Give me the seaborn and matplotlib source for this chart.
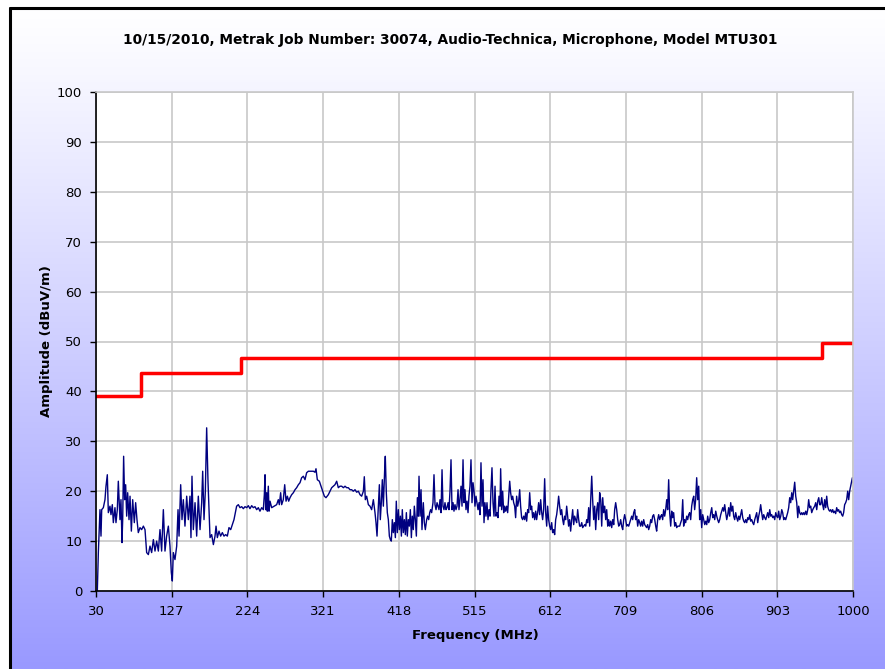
import numpy as np
import seaborn as sns
import matplotlib.pyplot as plt
from matplotlib.lines import Line2D

title = "10/15/2010, Metrak Job Number: 30074, Audio-Technica, Microphone, Model MTU301"
xlabel = "Frequency (MHz)"
ylabel = "Amplitude (dBuV/m)"

# limit line (step)
limit_mhz = [30, 88, 216, 960, 1000]
limit_dbuv = [39.0, 43.6, 46.6, 49.6, 49.6]

freq_mhz = [
    31.7, 33.0, 35.1, 36.4, 37.3, 39.4, 41.5, 42.8, 44.5, 45.8, 47.9, 49.2, 50.9, 52.2, 54.3, 55.6, 57.3, 58.6,
    60.7, 62.0, 63.3, 64.2, 65.4, 66.7, 68.0, 69.3, 70.6, 72.3, 73.6, 75.3, 77.0, 79.1, 80.8, 82.5, 84.2, 86.4,
    88.5, 90.7, 92.8, 94.9, 97.1, 99.2, 101.3, 103.5, 105.6, 107.7, 109.9, 112.0, 114.1, 116.3, 118.4, 120.5,
    122.7, 124.8, 126.5, 127.8, 129.1, 131.2, 133.4, 135.1, 136.4, 138.5, 140.2, 141.9, 144.0, 146.2, 148.3,
    150.4, 151.7, 153.0, 154.7, 156.9, 159.0, 161.1, 163.3, 165.4, 166.7, 168.4, 170.1, 171.8, 173.5,
    176.1, 178.2, 180.4, 182.5, 183.8, 185.5, 187.6, 189.7, 191.9, 194.0, 196.2, 198.3, 200.4, 202.6, 204.7,
    206.8, 208.5, 210.2, 212.4, 214.5, 216.7, 218.8, 220.9, 223.1, 225.2, 227.3, 229.5, 231.6, 233.7, 235.9,
    238.0, 240.1, 242.3, 244.4, 245.7, 246.6, 247.4, 248.7, 249.5, 250.8, 251.7, 253.0, 255.1, 257.2, 259.4,
    261.5, 263.6, 264.9, 266.6, 267.9, 270.0, 271.8, 273.5, 275.2, 276.9, 278.6, 280.7, 282.9, 285.0, 287.1,
    289.3, 291.4, 293.5, 295.7, 297.8, 299.9, 302.1, 304.2, 306.4, 308.5, 310.6, 311.9, 313.6, 316.2, 318.3,
    320.4, 322.6, 324.7, 327.7, 329.8, 332.0, 334.1, 336.2, 338.4, 340.5, 342.6,
    344.8, 347.0, 349.1, 351.2, 353.3, 355.5, 357.6, 359.7, 361.9, 364.0, 366.2, 368.3, 370.4, 372.6, 373.8,
    375.1, 376.8, 379.0, 381.1, 383.2, 385.4, 387.5, 388.8, 390.1, 391.4, 393.1, 394.3, 395.6, 396.9, 398.2,
    399.9, 400.7, 402.0, 403.3, 404.6, 405.9, 407.2, 408.4, 409.7, 411.0, 412.3, 413.6, 414.8, 416.1, 417.4,
    418.7, 420.0, 421.3, 422.5, 423.8, 425.1, 426.4, 427.7, 428.9, 430.2, 431.5, 432.8, 434.1, 435.3, 436.6,
    437.9, 439.2, 440.5, 441.8, 443.0, 443.9, 445.2, 446.5, 447.7, 449.4, 450.7, 452.0, 453.7, 455.0, 456.3,
    457.6, 458.8, 460.1, 461.8, 463.1, 464.4, 465.7, 467.0, 468.2, 469.5, 470.8, 472.1, 473.4, 474.6, 475.9,
    477.2, 478.5, 479.8, 481.1, 482.3, 483.6, 484.9, 486.2, 487.5, 488.7, 490.0, 491.3, 492.6, 493.9, 495.1,
    496.4,
    497.7, 499.0, 500.3, 501.5, 502.8, 504.1, 505.4, 506.7, 507.9, 509.2, 510.5, 511.8, 513.1, 514.4, 515.6,
    516.9, 518.2, 519.5, 520.8, 522.0, 523.3, 524.6, 525.9, 527.2, 528.4, 529.7, 531.0, 532.3, 533.6, 534.9,
    536.1, 537.4, 538.7, 540.0, 541.3, 542.5, 543.8, 545.1, 546.4, 547.7, 548.5, 549.8, 551.1, 552.4, 553.6,
    554.9, 556.2, 557.5, 558.8, 560.1, 561.3, 562.6, 563.9, 565.2, 566.5, 567.7, 569.0, 570.3, 571.6, 572.9,
    574.1, 575.4, 576.7, 578.0, 579.3, 580.6, 581.8, 583.1, 584.4, 585.7, 587.0, 588.2, 589.5, 590.8, 592.1,
    593.4, 594.6, 595.9, 597.2, 598.5, 599.8, 601.1, 602.3, 603.6, 604.9, 606.2, 607.5, 608.7, 610.0, 611.3,
    612.6, 613.9, 615.1, 616.4, 617.7, 619.0, 620.3, 621.6, 622.8, 624.1, 625.4, 626.7, 628.0, 629.2, 630.5,
    631.8, 633.1, 634.4, 635.6, 636.9, 638.2, 639.5, 640.8, 642.1, 643.3, 644.6, 645.9, 647.2, 648.5, 649.7,
    651.1, 652.4, 653.6, 654.9, 656.2, 657.5, 658.8, 660.0, 661.3, 662.6, 663.9, 665.2, 666.4, 667.7, 669.0,
    670.3, 671.6, 672.9, 674.1, 675.4, 676.7, 678.0, 679.3, 680.5, 681.8, 683.1, 684.4, 685.7, 686.9, 688.2,
    689.5, 690.8, 692.1, 693.4, 694.6, 695.9, 697.2, 698.5, 699.8, 701.0, 702.3, 703.6, 704.9, 706.2, 707.4,
    708.7, 710.0, 711.3, 712.6, 713.9, 715.1, 716.4, 717.7, 719.0, 720.3, 721.5, 722.8, 724.1, 725.4, 726.7,
    727.9, 729.2, 730.5, 731.8, 733.1, 734.4, 735.6, 736.9, 738.2, 739.5, 740.8, 742.0, 743.3, 744.6, 745.9,
    747.2, 748.4, 749.7, 751.0, 752.3, 753.6, 754.9, 756.1, 757.4, 758.7, 760.0, 761.3, 762.5, 763.8, 765.1,
    766.4, 767.7, 768.9, 770.2, 771.5, 772.8, 774.1, 775.4, 776.6, 777.9, 779.2, 780.5, 781.8, 783.0, 784.3,
    785.6, 786.9, 788.2, 789.4, 790.7, 792.0, 793.3, 794.6, 795.9, 797.1, 798.4, 799.7, 801.0, 802.3, 803.5,
    804.9, 806.1, 807.4, 808.7, 810.0, 811.3, 812.6, 813.8, 815.1, 816.4, 817.7, 819.0, 820.2, 821.5, 822.8,
    824.1, 825.4, 826.6, 827.9, 829.2, 830.5, 831.8, 833.1, 834.3, 835.6, 836.9, 838.2, 839.5, 840.7, 842.0,
    843.3, 844.6, 845.9, 847.1, 848.4, 849.7, 851.0, 852.3, 853.6, 854.8, 856.1, 857.4, 858.7, 860.0, 861.2,
    862.5, 863.8, 865.1, 866.4, 867.7, 868.9, 870.2, 871.5, 872.8, 874.1, 875.3, 876.6, 877.9, 879.2, 880.5,
    881.7, 883.0, 884.3, 885.6, 886.9, 888.2, 889.4, 890.7, 892.0, 893.3, 894.6, 895.8, 897.1, 898.4, 899.7,
    901.0, 902.2, 903.5, 904.8, 906.1, 907.4, 908.7, 909.9, 911.2, 912.5, 913.8, 915.1, 916.3, 917.6, 918.9,
    920.2, 921.5, 922.7, 924.0, 925.3, 926.6, 927.9, 929.2, 930.4, 931.7, 933.0, 934.3, 935.6, 936.8, 938.1,
    939.4, 940.7, 942.0, 943.2, 944.5, 945.8, 947.1, 948.4, 949.7, 950.9, 952.2, 953.5, 954.8, 956.1, 957.3,
    958.6, 959.9, 961.1, 962.4, 963.7, 965.0, 966.3, 967.5, 968.8, 970.1, 971.4, 972.7, 974.0, 975.2, 976.5,
    977.8, 979.1, 980.4, 981.6, 982.9, 984.2, 985.5, 986.8, 988.0, 989.3, 990.6, 991.9, 993.2, 994.5, 995.7,
    997.0, 998.3, 999.2, 1000.0,
]
amp_dbuv = [
    0.0, 7.7, 16.3, 11.0, 16.3, 16.7, 18.3, 21.0, 23.3, 15.7, 17.0, 15.3, 17.3, 13.7, 16.7, 13.7, 16.3, 22.0,
    14.3, 18.3, 9.7, 14.3, 27.0, 18.3, 21.3, 15.0, 19.7, 14.3, 19.0, 12.0, 18.3, 13.7, 17.7, 14.3, 11.7, 12.7,
    12.3, 13.0, 12.3, 7.7, 7.3, 9.0, 7.7, 10.3, 8.0, 10.0, 8.0, 12.3, 8.0, 16.3, 8.0, 11.0,
    13.0, 9.0, 3.7, 2.0, 7.7, 6.3, 9.0, 16.3, 11.0, 21.3, 14.3, 18.3, 13.0, 19.0, 14.3,
    19.0, 10.7, 23.0, 12.3, 17.7, 11.0, 19.0, 12.3, 17.7, 24.0, 14.3, 20.0, 32.7, 22.0,
    10.7, 11.3, 9.3, 11.0, 13.0, 10.7, 12.0, 11.0, 11.7, 11.0, 11.3, 11.0, 12.7, 12.3, 13.3,
    14.3, 15.7, 17.0, 17.3, 16.7, 16.9, 16.5, 16.9, 16.7, 17.1, 16.5, 17.1, 16.7, 16.9, 16.3,
    16.7, 16.0, 16.7, 16.3, 19.3, 23.3, 16.3, 19.7, 16.0, 21.0, 16.0, 18.0, 16.7, 16.9, 17.1,
    17.3, 18.3, 17.3, 19.7, 17.3, 18.3, 21.3, 18.0, 19.0, 18.0, 18.7, 19.3, 19.7, 20.3, 20.7,
    21.3, 21.7, 22.7, 23.0, 22.3, 23.7, 24.0, 24.0, 24.0, 24.0, 23.8, 24.5, 22.3, 22.0, 21.0,
    20.0, 19.0, 18.7, 19.3, 20.0, 20.7, 21.0, 21.3, 22.0, 20.7, 21.0,
    21.0, 20.7, 21.0, 20.7, 20.7, 20.3, 20.3, 20.0, 20.3, 19.8, 20.0, 19.3, 19.0, 20.0, 22.9,
    18.3, 19.0, 17.3, 17.0, 16.3, 18.3, 15.7, 13.7, 11.0, 15.7, 21.3, 14.3, 17.7, 22.3, 17.0,
    24.3, 27.0, 19.7, 15.7, 14.3, 11.0, 10.3, 10.0, 14.3, 11.7, 13.7, 10.7, 18.0, 11.7, 16.3,
    12.3, 15.0, 11.0, 16.3, 11.7, 14.3, 11.3, 15.7, 11.0, 14.3, 13.0, 16.3, 10.7, 15.0, 12.3,
    17.0, 14.3, 11.0, 18.7, 15.0, 23.0, 15.0, 20.3, 12.3, 17.7, 13.7, 12.3, 14.3, 15.0, 14.3,
    15.7, 16.3, 15.7, 17.7, 23.3, 17.3, 16.3, 17.7, 17.0, 16.3, 18.3, 15.7, 24.3, 17.0, 16.3,
    17.7, 16.3, 16.7, 17.7, 16.3, 20.0, 26.3, 16.3, 17.7, 16.0, 17.3, 16.3, 17.0, 20.3, 16.3,
    18.3,
    21.0, 17.0, 26.3, 17.7, 20.3, 16.3, 18.0, 15.7, 19.0, 21.0, 26.3, 17.7, 21.7, 20.0, 17.0,
    19.0, 17.7, 16.3, 17.7, 15.3, 25.7, 17.0, 22.3, 13.7, 17.7, 15.0, 17.7, 14.3, 16.3, 15.0,
    20.3, 24.7, 17.7, 15.0, 21.0, 15.0, 15.7, 14.7, 19.0, 17.0, 24.5, 16.3, 20.0, 15.7, 17.0,
    16.0, 17.0, 15.7, 19.0, 22.0, 19.7, 18.3, 19.0, 17.7, 17.0, 14.7, 19.0, 17.0, 18.0, 20.3,
    17.0, 14.7, 14.3, 15.0, 14.3, 15.7, 14.0, 16.3, 15.7, 19.7, 16.3, 17.0, 14.7, 15.7, 14.3,
    16.0, 14.3, 15.7, 17.7, 15.3, 18.3, 15.7, 14.3, 16.3, 22.5, 15.7, 13.0, 17.0, 14.3, 13.0,
    12.3, 13.7, 11.7, 12.3, 11.3, 14.3, 15.3, 17.0, 19.0, 17.0, 15.3, 16.3, 14.3, 13.3, 15.0,
    14.3, 17.0, 15.0, 13.0, 14.3, 12.0, 14.3, 16.3, 13.3, 15.0, 14.3, 13.7, 16.3, 14.3, 13.0,
    13.0, 13.7, 12.7, 13.0, 13.3, 13.0, 14.3, 13.7, 16.7, 13.0, 18.3, 23.0, 18.3, 14.3, 17.0,
    12.3, 16.3, 17.7, 14.3, 19.7, 18.3, 13.0, 18.7, 15.7, 17.0, 14.3, 16.3, 13.0, 14.3, 13.0,
    14.0, 12.7, 14.3, 13.3, 16.3, 17.7, 16.3, 14.3, 13.0, 13.3, 14.3, 13.0, 12.3, 14.3, 15.3,
    14.3, 13.0, 13.3, 13.0, 13.7, 14.3, 15.0, 14.3, 15.7, 16.3, 14.3, 15.0, 13.0, 14.3, 13.7,
    13.0, 14.0, 13.0, 14.3, 13.3, 13.0, 12.7, 13.3, 12.3, 13.0, 14.3, 13.7, 15.0, 15.3, 14.3,
    13.0, 12.0, 14.3, 15.3, 14.3, 15.0, 15.3, 14.3, 16.3, 15.0, 16.3, 18.3, 16.3, 22.3, 15.7,
    13.0, 16.0, 14.7, 15.7, 13.0, 13.7, 12.7, 13.0, 13.0, 13.0, 13.7, 14.3, 18.3, 13.0, 14.3,
    13.7, 15.0, 14.3, 15.3, 15.7, 14.3, 17.0, 18.3, 19.0, 16.3, 18.3, 22.7, 18.3, 21.0, 14.3,
    16.3, 12.7, 15.3, 14.3, 13.3, 14.0, 13.3, 15.0, 13.7, 14.3, 15.7, 16.7, 14.7, 15.3, 14.3,
    16.0, 15.0, 14.3, 13.7, 14.3, 15.3, 16.0, 16.7, 16.0, 17.3, 15.7, 14.3, 15.3, 16.7, 15.0,
    17.7, 16.0, 17.0, 15.0, 14.3, 15.7, 14.7, 14.0, 15.0, 14.3, 15.3, 16.3, 14.7, 14.0, 13.7,
    14.3, 13.7, 14.7, 14.3, 15.3, 14.0, 14.3, 13.7, 13.3, 14.3, 15.0, 15.7, 13.7, 15.0, 16.0,
    17.3, 15.7, 14.3, 15.3, 14.7, 14.3, 15.0, 15.7, 14.7, 16.3, 15.0, 15.3, 14.7, 15.0, 14.3,
    15.7, 15.0, 14.7, 16.0, 14.3, 15.0, 16.3, 15.7, 14.3, 14.7, 14.3, 15.0, 15.7, 16.7, 18.7,
    17.7, 19.7, 18.3, 20.0, 21.8, 19.0, 17.7, 14.7, 17.0, 15.7, 15.3, 15.7, 15.3, 15.7, 15.3,
    16.0, 15.3, 16.3, 18.3, 16.7, 17.0, 15.7, 16.3, 16.7, 17.0, 17.7, 16.3, 18.0, 18.7, 17.3,
    17.3, 18.7, 17.3, 16.3, 18.3, 16.7, 19.0, 17.0, 16.3, 16.0, 16.3, 15.8, 16.3, 15.7, 16.0,
    15.5, 16.7, 16.0, 16.3, 15.7, 16.0, 15.3, 15.0, 15.7, 17.3, 17.7, 18.3, 20.0, 18.3, 20.0,
    21.0, 22.0, 22.7, 21.7,
]

xticks = [30, 127, 224, 321, 418, 515, 612, 709, 806, 903, 1000]
yticks = list(range(0, 101, 10))

n = min(len(freq_mhz), len(amp_dbuv))

sns.set_theme(style="white")
plt.rcParams['font.family'] = ['DejaVu Sans']
plt.rcParams.update({'text.color': 'black', 'xtick.color': 'black',
                     'ytick.color': 'black', 'axes.labelcolor': 'black'})

W, H = 885, 669
fig = plt.figure(figsize=(W / 100, H / 100), dpi=100, facecolor='white')

# white-to-lavender gradient inside the black frame
bg = fig.add_axes([10 / W, 0, 1 - 10 / W, 1 - 8 / H], zorder=-10)
g = np.linspace(0, 1, 256)[:, None] ** 1.1
top = np.array([1.0, 1.0, 1.0])
bot = np.array([0.6, 0.6, 1.0])
bg.imshow((top * (1 - g) + bot * g)[:, None, :], aspect='auto', extent=[0, 1, 0, 1])
bg.axis('off')

fig.add_artist(Line2D([10 / W, 1], [1 - 8 / H, 1 - 8 / H], color='black', lw=2.2,
                      transform=fig.transFigure))
fig.add_artist(Line2D([10 / W, 10 / W], [0, 1 - 8 / H], color='black', lw=2.2,
                      transform=fig.transFigure))

ax = fig.add_axes([96 / W, 1 - 591 / H, 757 / W, 499 / H])
ax.set_facecolor('white')

sns.lineplot(x=freq_mhz[:n], y=amp_dbuv[:n], ax=ax, color='#000080', lw=1.0,
             estimator=None, sort=False)
sns.lineplot(x=limit_mhz, y=limit_dbuv, ax=ax, color='#ff0000', lw=2.5,
             drawstyle='steps-post', estimator=None)

ax.set_xlim(30, 1000)
ax.set_ylim(0, 100)
ax.set_xticks(xticks)
ax.set_yticks(yticks)
ax.grid(True, color='#c8c8c8', lw=1.2)
ax.set_axisbelow(True)
ax.set(xlabel=None, ylabel=None)
ax.tick_params(bottom=True, left=True, direction='out', length=4, width=1,
               color='black', labelcolor='black', labelsize=9.5, pad=6)
for s in ['left', 'bottom']:
    ax.spines[s].set_color('black')
    ax.spines[s].set_linewidth(1.2)
for s in ['top', 'right']:
    ax.spines[s].set_color('#c8c8c8')
    ax.spines[s].set_linewidth(1.2)

fig.text(450 / W, 1 - 40 / H, title, ha='center', va='center', fontsize=9.9,
         fontweight='bold', color='black')
fig.text(475 / W, 1 - 635 / H, xlabel, ha='center', va='center', fontsize=9.5,
         fontweight='bold', color='black')
fig.text(47 / W, 1 - 341 / H, ylabel, ha='center', va='center', rotation=90,
         fontsize=9.5, fontweight='bold', color='black')

fig.savefig('out.png', dpi=100)
